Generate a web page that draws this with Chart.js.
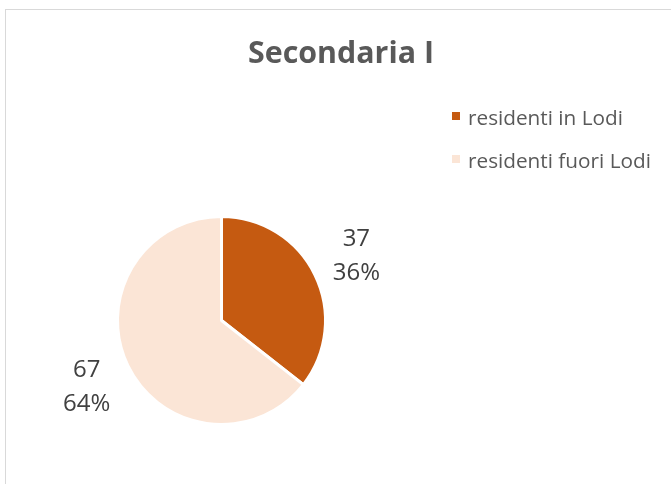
<!DOCTYPE html>
<html><head><meta charset="utf-8">
<script src="https://cdn.jsdelivr.net/npm/chart.js@4.4.0/dist/chart.umd.min.js"></script>
<style>
html,body{margin:0;padding:0;background:#fff;}
#wrap{position:relative;width:671px;height:484px;overflow:hidden;}
#frame{position:absolute;left:5px;top:9px;width:680px;height:490px;border:1px solid #d9d9d9;box-sizing:border-box;}
canvas{position:absolute;left:0;top:0;}
</style></head>
<body>
<div id="wrap"><div id="frame"></div><canvas id="c" width="671" height="484"></canvas></div>
<script>
const chartTitle = "Secondaria I";
const categories = ["residenti in Lodi", "residenti fuori Lodi"];
const values = [37, 67];
const percentLabels = ["36%", "64%"];
const colors = ["#C55A11", "#FBE5D6"];

const FONT = "'Open Sans', sans-serif";

function fitSize(ctx, text, weight, target) {
  ctx.font = weight + " 20px " + FONT;
  const w = ctx.measureText(text).width;
  return 20 * target / w;
}

const overlay = {
  id: 'overlay',
  afterDraw(chart) {
    const ctx = chart.ctx;
    ctx.save();
    // title
    ctx.fillStyle = '#595959';
    const ts = fitSize(ctx, chartTitle, 'bold', 186);
    ctx.font = "bold " + ts + "px " + FONT;
    ctx.textAlign = 'center';
    ctx.textBaseline = 'alphabetic';
    ctx.fillText(chartTitle, 341, 62.5);
    // legend
    const ls = fitSize(ctx, categories[0], 'normal', 155);
    ctx.font = ls + "px " + FONT;
    ctx.textAlign = 'left';
    const lb = [125, 168];
    categories.forEach((c, i) => {
      ctx.fillStyle = colors[i];
      ctx.fillRect(452, lb[i] - 13, 8, 8);
      ctx.fillStyle = '#595959';
      ctx.fillText(c, 468, lb[i]);
    });
    // data labels
    const meta = chart.getDatasetMeta(0);
    ctx.font = "24px " + FONT;
    ctx.fillStyle = '#404040';
    ctx.textAlign = 'center';
    meta.data.forEach((arc, i) => {
      const p = arc.getProps(['x','y','startAngle','endAngle','outerRadius'], true);
      const mid = (p.startAngle + p.endAngle) / 2;
      const r = p.outerRadius + 46;
      const cx = p.x + Math.cos(mid) * r;
      const cy = p.y + Math.sin(mid) * r;
      ctx.fillText(String(values[i]), cx, cy - 9);
      ctx.fillText(percentLabels[i], cx, cy + 25);
    });
    ctx.restore();
  }
};

new Chart(document.getElementById('c'), {
  type: 'pie',
  data: {
    labels: categories,
    datasets: [{
      data: values,
      backgroundColor: colors,
      borderColor: '#ffffff',
      borderWidth: 3
    }]
  },
  options: {
    responsive: false,
    animation: false,
    layout: { padding: { left: 116, right: 344, top: 215, bottom: 58 } },
    plugins: { legend: { display: false }, title: { display: false }, tooltip: { enabled: false } }
  },
  plugins: [overlay]
});
</script>
</body></html>
